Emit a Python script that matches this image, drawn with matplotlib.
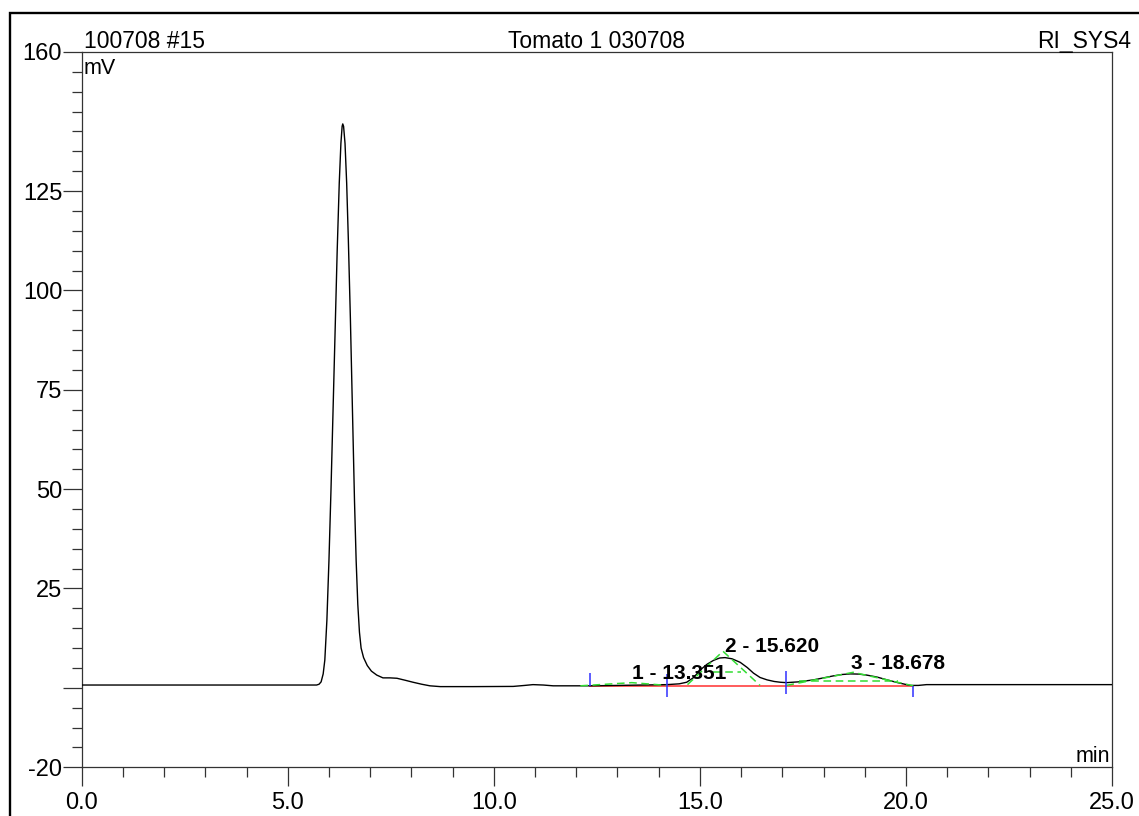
import matplotlib
matplotlib.use("Agg")
import matplotlib.pyplot as plt
from matplotlib.patches import Rectangle
from matplotlib.ticker import MultipleLocator, FixedLocator

plt.rcParams['font.family'] = ['Liberation Sans', 'DejaVu Sans']

# chromatogram trace (min, mV)
t_trace = [0.0, 5.70, 5.76, 5.81, 5.86, 5.90, 5.95, 6.00, 6.05, 6.10, 6.15, 6.20,
           6.25, 6.29, 6.32, 6.335, 6.355, 6.39, 6.43, 6.47, 6.52, 6.57, 6.62,
           6.66, 6.70, 6.74, 6.78, 6.84, 6.93, 7.03, 7.16, 7.31, 7.48, 7.65,
           7.85, 8.04, 8.25, 8.45, 8.70, 9.50, 10.47, 10.75, 10.95, 11.20,
           11.44, 12.34, 13.0, 13.6, 14.2, 14.5, 14.68, 14.85, 15.0, 15.17,
           15.33, 15.48, 15.61, 15.78, 15.98, 16.15, 16.3, 16.46, 16.63, 16.8,
           16.95, 17.1, 17.4, 17.76, 18.0, 18.24, 18.45, 18.65, 18.85, 19.05,
           19.3, 19.54, 19.8, 20.1, 20.3, 20.5, 21.3, 25.0]
mv_trace = [0.7, 0.7, 0.9, 1.5, 3.5, 7, 17, 32, 50, 70, 90, 110,
            127, 137, 141.3, 141.9, 141.3, 137, 127, 113, 93, 70, 47,
            32, 21, 14, 10, 7.6, 5.6, 4.2, 3.2, 2.5, 2.5, 2.4,
            1.9, 1.4, 0.9, 0.5, 0.3, 0.3, 0.35, 0.6, 0.8, 0.7,
            0.5, 0.5, 0.6, 0.7, 0.8, 1.0, 1.4, 2.6, 4.4, 5.9,
            6.9, 7.5, 7.6, 7.3, 6.4, 5.1, 3.7, 2.6, 2.0, 1.6,
            1.4, 1.3, 1.5, 2.0, 2.5, 3.0, 3.35, 3.5, 3.45, 3.2,
            2.7, 2.0, 1.3, 0.6, 0.6, 0.8, 0.8, 0.8]

# integrated peaks
peak_names = ['1 - 13.351', '2 - 15.620', '3 - 18.678']
peak_rt = [13.351, 15.620, 18.678]
label_y = [2.2, 9.0, 4.7]

# fitted (green dashed) shapes
fit_t = [[12.1, 13.35, 14.2], [14.7, 15.56, 16.46], [17.1, 18.72, 20.18]]
fit_mv = [[0.5, 1.3, 0.6], [0.8, 9.2, 0.6], [0.6, 3.9, 0.5]]
width_t = [[15.33, 16.0], [17.4, 19.8]]
width_mv = [4.1, 1.8]

# peak delimiters and baseline
delim_t = [12.34, 14.2, 17.1, 20.18]
delim_top = [3.8, 3.5, 4.3, 0.5]
delim_bot = [0.5, -2.3, -1.5, -2.3]
base_t = [12.34, 20.18]
base_mv = [0.5, 0.5]

y_major = [-20, 0, 25, 50, 75, 100, 125, 160]
y_labels = ['-20', '', '25', '50', '75', '100', '125', '160']

fig = plt.figure(figsize=(11.39, 8.16), dpi=100)
ax = fig.add_axes([0.0717, 0.0597, 0.9046, 0.8766])

ax.plot(t_trace, mv_trace, color='black', lw=1.0, zorder=3)
ax.plot(base_t, base_mv, color='#ff4040', lw=1.2, zorder=2)
for ft, fm in zip(fit_t, fit_mv):
    ax.plot(ft, fm, color='#33dd33', lw=1.1, ls=(0, (5, 3)), zorder=4)
for wt, wm in zip(width_t, width_mv):
    ax.plot(wt, [wm, wm], color='#33dd33', lw=1.1, ls=(0, (5, 3)), zorder=4)
ax.vlines(delim_t, delim_bot, delim_top, color='#3030ff', lw=1.1, zorder=5)
for name, rt, ly in zip(peak_names, peak_rt, label_y):
    ax.text(rt, ly, name, ha='left', va='baseline', fontsize=15,
            fontweight='bold', zorder=6)

ax.set_xlim(0, 25)
ax.set_ylim(-20, 160)
ax.xaxis.set_major_locator(MultipleLocator(5))
ax.xaxis.set_minor_locator(MultipleLocator(1))
ax.set_xticklabels([f'{v:.1f}' for v in ax.get_xticks()])
ax.yaxis.set_major_locator(FixedLocator(y_major))
ax.set_yticklabels(y_labels)
ax.yaxis.set_minor_locator(MultipleLocator(5))
ax.tick_params(which='major', direction='out', length=14, width=0.9,
               labelsize=17, color='#333333')
ax.tick_params(which='minor', direction='out', length=7, width=0.9,
               color='#333333')
ax.tick_params(axis='y', which='major', pad=0)
ax.tick_params(axis='x', which='major', pad=4)
for sp in ax.spines.values():
    sp.set_linewidth(0.9)
    sp.set_color('#333333')

ax.text(0.002, 1.006, '100708 #15', transform=ax.transAxes, ha='left',
        va='baseline', fontsize=16.5)
ax.text(0.5, 1.006, 'Tomato 1 030708', transform=ax.transAxes, ha='center',
        va='baseline', fontsize=16.5)
ax.text(1.019, 1.006, 'RI_SYS4', transform=ax.transAxes, ha='right',
        va='baseline', fontsize=16.5)
ax.text(0.002, 0.992, 'mV', transform=ax.transAxes, ha='left', va='top',
        fontsize=15.5)
ax.text(0.998, 0.008, 'min', transform=ax.transAxes, ha='right',
        va='baseline', fontsize=15.5)

fig.patches.append(Rectangle((10 / 1139, -0.02), 1.05, 1.0044, fill=False,
                             lw=1.7, edgecolor='black',
                             transform=fig.transFigure, figure=fig))

fig.savefig('out.png', dpi=100)
